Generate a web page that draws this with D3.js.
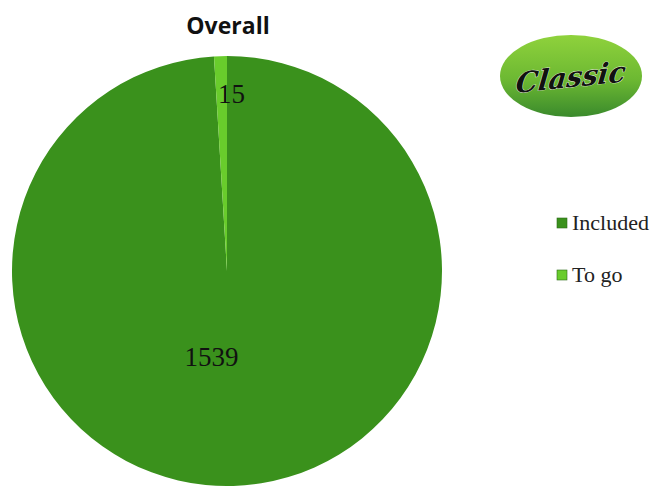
<!DOCTYPE html>
<html>
<head>
<meta charset="utf-8">
<script src="https://cdn.jsdelivr.net/npm/d3@7"></script>
<style>
  body { margin: 0; background: #fff; }
  svg { display: block; }
</style>
</head>
<body>
<div id="chart"></div>
<script>
const categories = ['Included', 'To go'];
const values = [1539, 15];
const colors = ['#3a911c', '#69cc2c'];
const title = 'Overall';

const w = 651;
const h = 486;
const cx = 227, cy = 271, radius = 215;

const svg = d3.select('#chart')
    .append('svg')
    .attr('width', w)
    .attr('height', h);

// title
svg.append('text')
    .attr('x', 228)
    .attr('y', 34)
    .attr('text-anchor', 'middle')
    .style('font-family', "'Open Sans', sans-serif")
    .style('font-weight', 'bold')
    .style('font-size', '23px')
    .attr('fill', '#111')
    .text(title);

const pie = d3.pie().sort(null).value(d => d);
const arcs = pie(values);
const arc = d3.arc().innerRadius(0).outerRadius(radius);

const g = svg.append('g').attr('transform', `translate(${cx},${cy})`);

g.selectAll('path')
    .data(arcs)
    .enter()
    .append('path')
    .attr('d', arc)
    .attr('fill', (d, i) => colors[i]);

// data labels, Excel-ish placement
const labelR = [86, 178];
const labelDx = [-18, 10];
g.selectAll('text.lbl')
    .data(arcs)
    .enter()
    .append('text')
    .attr('class', 'lbl')
    .attr('transform', (d, i) => {
        const c = d3.arc().innerRadius(labelR[i]).outerRadius(labelR[i]).centroid(d);
        return `translate(${c[0] + labelDx[i]},${c[1]})`;
    })
    .attr('dy', '0.35em')
    .attr('text-anchor', 'middle')
    .style('font-family', "'Liberation Serif', 'DejaVu Serif', serif")
    .style('font-size', '27px')
    .attr('fill', '#111')
    .text(d => d.data);

// legend
const legend = svg.append('g').attr('transform', 'translate(557,218)');
const item = legend.selectAll('g')
    .data(categories)
    .enter()
    .append('g')
    .attr('transform', (d, i) => `translate(0,${i * 52})`);

item.append('rect')
    .attr('width', 10)
    .attr('height', 10)
    .attr('fill', (d, i) => colors[i])
    .attr('stroke', '#2d6b18')
    .attr('stroke-width', 0.6);

item.append('text')
    .attr('x', 15)
    .attr('y', 12)
    .style('font-family', "'Liberation Serif', 'DejaVu Serif', serif")
    .style('font-size', '22px')
    .attr('fill', '#222')
    .text(d => d);

// "Classic" badge
const defs = svg.append('defs');
const grad = defs.append('linearGradient')
    .attr('id', 'badge')
    .attr('x1', 0).attr('y1', 0).attr('x2', 0).attr('y2', 1);
grad.append('stop').attr('offset', '0%').attr('stop-color', '#8fd23c');
grad.append('stop').attr('offset', '55%').attr('stop-color', '#6cb832');
grad.append('stop').attr('offset', '100%').attr('stop-color', '#3a8a2c');

const badge = svg.append('g').attr('transform', 'translate(571,76)');
badge.append('ellipse')
    .attr('rx', 71)
    .attr('ry', 41)
    .attr('fill', 'url(#badge)');

badge.append('text')
    .attr('transform', 'rotate(-6) skewX(-12)')
    .attr('y', 11)
    .attr('text-anchor', 'middle')
    .style('font-family', "'DejaVu Serif', serif")
    .style('font-style', 'italic')
    .style('font-weight', 'bold')
    .style('font-size', '28px')
    .attr('fill', '#111')
    .attr('stroke', '#eef6e0')
    .attr('stroke-width', 0.8)
    .attr('paint-order', 'stroke')
    .text('Classic');
</script>
</body>
</html>
